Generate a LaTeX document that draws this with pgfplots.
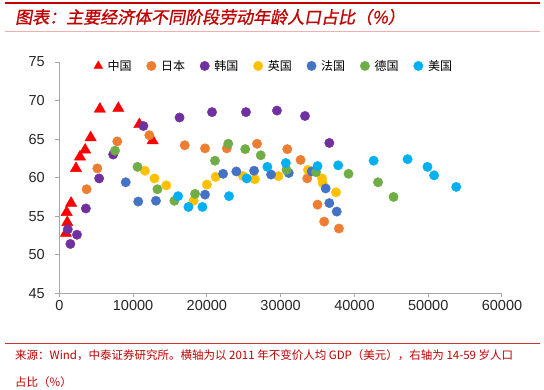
\documentclass[border=0pt]{standalone}
\usepackage{fontspec}
\setmainfont{Liberation Sans}
\newfontfamily\cjk{Noto Sans CJK SC}
\newfontfamily\cjktitle[FakeSlant=0.18,FakeBold=1]{Noto Sans CJK SC}
\usepackage{pgfplots}
\pgfplotsset{compat=1.18}
\pgfplotsset{mylegimg/.style={legend image code/.code={\draw[##1] plot coordinates {(0pt,0pt)};}},
  mylegtri/.style={legend image code/.code={\draw[##1,mark size=5pt] plot coordinates {(0pt,0pt)};}}}
\definecolor{cCN}{HTML}{FF0000}
\definecolor{cJP}{HTML}{ED7D31}
\definecolor{cKR}{HTML}{7030A0}
\definecolor{cUK}{HTML}{FFC000}
\definecolor{cFR}{HTML}{4472C4}
\definecolor{cDE}{HTML}{70AD47}
\definecolor{cUS}{HTML}{00B0F0}
\definecolor{axgray}{HTML}{A6A6A6}
\definecolor{dred}{HTML}{C00000}
\definecolor{pinkline}{HTML}{F0B0B0}
\begin{document}
\begin{tikzpicture}
\useasboundingbox (-59.3pt,-95.7pt) rectangle (484.7pt,293.3pt);
\begin{axis}[
  at={(0pt,0pt)}, anchor=south west,
  width=442.7pt, height=231.3pt, scale only axis,
  xmin=0, xmax=60000, ymin=45, ymax=75,
  xtick={0,10000,20000,30000,40000,50000,60000},
  ytick={45,50,55,60,65,70,75},
  scaled x ticks=false,
  /pgf/number format/assume math mode=true,
  /pgf/number format/set thousands separator={},
  tick label style={font=\fontsize{14.5}{17}\selectfont, text=black!85},
  yticklabel style={xshift=-7pt},
  axis x line*=bottom, axis y line*=left,
  axis line style={-, draw=axgray, line width=1.2pt},
  tick style={draw=axgray, line width=1pt},
  tick align=outside, major tick length=4pt,
  clip=false,
  legend columns=7,
  legend style={draw=none, fill=none, at={(0.485,0.983)}, anchor=center,
    font=\cjk\fontsize{12}{14}\selectfont,
    /tikz/every odd column/.append style={column sep=3pt},
    /tikz/every even column/.append style={column sep=13pt}},
]
\addplot[only marks, mark=triangle*, mark size=6.5pt, color=cCN, mylegtri]
coordinates {(900,52.8)(1080,54.2)(1000,55.5)(1600,56.7)(2260,61.2)(2800,62.7)(3500,63.6)(4250,65.2)(5500,68.9)(8000,69.0)(10850,66.9)(12650,64.8)};
\addlegendentry{中国}
\addplot[only marks, mark=*, mark size=4.7pt, color=cJP, mylegimg]
coordinates {(3700,58.5)(5150,61.2)(7860,64.7)(12200,65.5)(17000,64.2)(19750,63.8)(22700,63.8)(26800,64.4)(30900,63.7)(32700,62.3)(33600,59.9)(35000,56.5)(35900,54.3)(37900,53.4)};
\addlegendentry{日本}
\addplot[only marks, mark=*, mark size=4.7pt, color=cKR, mylegimg]
coordinates {(1500,51.4)(1150,53.3)(2400,52.6)(3600,56.0)(5400,59.9)(7300,63.0)(11400,66.7)(16300,67.8)(20700,68.5)(25300,68.5)(29500,68.7)(33300,68.0)(36600,64.5)};
\addlegendentry{韩国}
\addplot[only marks, mark=*, mark size=4.7pt, color=cUK, mylegimg]
coordinates {(11600,60.9)(12900,59.9)(14500,59.0)(18200,57.0)(20000,59.1)(21200,60.1)(24900,60.2)(26500,59.8)(29700,60.2)(33700,61.0)(35600,59.9)(35700,59.3)(37500,58.1)};
\addlegendentry{英国}
\addplot[only marks, mark=*, mark size=4.7pt, color=cFR, mylegimg]
coordinates {(9000,59.4)(10700,56.9)(13100,57.0)(19750,57.8)(22200,60.5)(24000,60.8)(26400,60.9)(28700,60.4)(31100,60.6)(34200,60.8)(36100,58.6)(36600,56.7)(37600,55.6)};
\addlegendentry{法国}
\addplot[only marks, mark=*, mark size=4.7pt, color=cDE, mylegimg]
coordinates {(7550,63.5)(10600,61.4)(13300,58.5)(15600,57.0)(18400,57.9)(21100,62.2)(22900,64.4)(25200,63.7)(27300,62.9)(30800,61.0)(34800,60.7)(39200,60.5)(43200,59.4)(45300,57.5)};
\addlegendentry{德国}
\addplot[only marks, mark=*, mark size=4.7pt, color=cUS, mylegimg]
coordinates {(16100,57.6)(17500,56.2)(19400,56.2)(23000,57.6)(25400,59.9)(28200,61.4)(30700,61.9)(35000,61.5)(37800,61.6)(42600,62.2)(47200,62.4)(49900,61.4)(50800,60.3)(53800,58.8)};
\addlegendentry{美国}
\end{axis}
% header
\draw[dred, line width=2pt] (-54.3pt,290.6pt) -- (480.7pt,290.6pt);
\node[anchor=west, inner sep=0pt, text=dred, font=\cjktitle\fontsize{17}{19}\selectfont] at (-44.3pt,276.3pt) {图表：主要经济体不同阶段劳动年龄人口占比（\%）};
\draw[pinkline, line width=0.8pt] (-54.3pt,262.3pt) -- (480.7pt,262.3pt);
% footer
\draw[dred!80, line width=0.6pt] (-54.3pt,-49.7pt) -- (480.7pt,-49.7pt);
\node[anchor=west, inner sep=0pt, text=dred, font=\cjk\fontsize{11.5}{13}\selectfont] at (-44.3pt,-61.7pt) {来源：Wind，中泰证券研究所。横轴为以 2011 年不变价人均 GDP（美元），右轴为 14-59 岁人口};
\node[anchor=west, inner sep=0pt, text=dred, font=\cjk\fontsize{11.5}{13}\selectfont] at (-44.3pt,-88.7pt) {占比（\%）};
\end{tikzpicture}
\end{document}
